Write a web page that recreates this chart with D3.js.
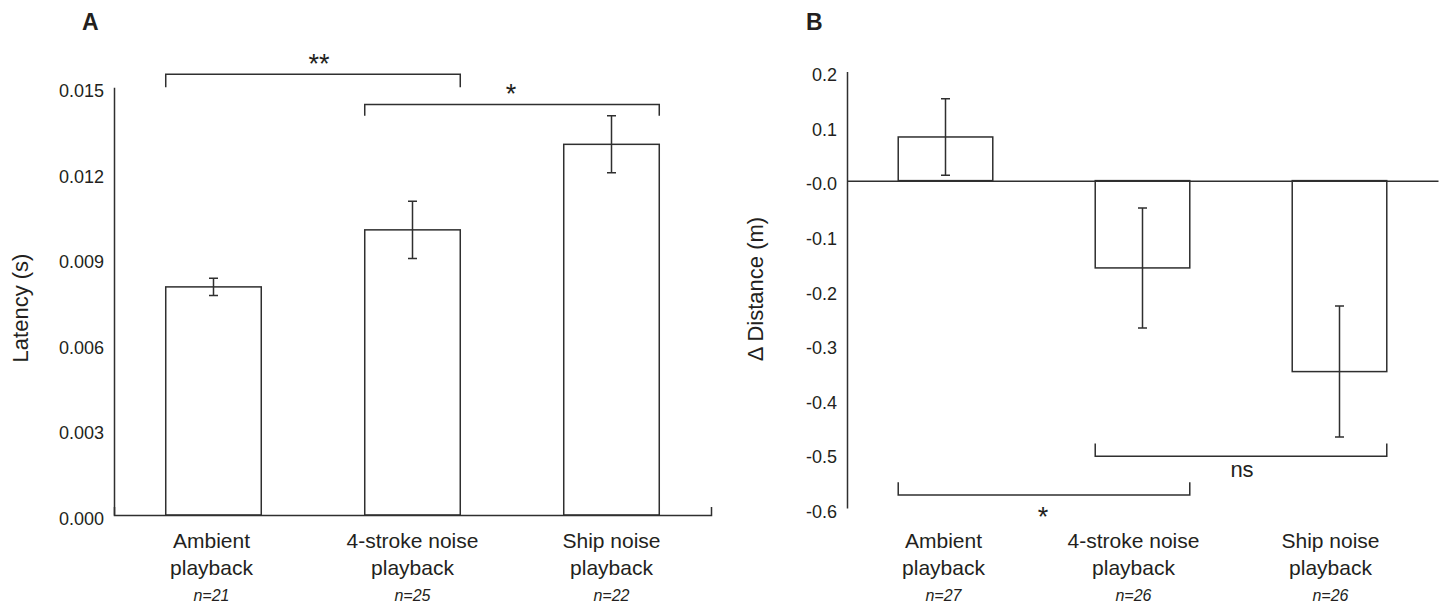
<!DOCTYPE html>
<html>
<head>
<meta charset="utf-8">
<script src="https://cdn.jsdelivr.net/npm/d3@7"></script>
<style>
  html, body { margin: 0; padding: 0; background: #fff; }
  svg { display: block; }
</style>
</head>
<body>
<svg id="fig" width="1444" height="605"></svg>
<script>
// ═══════════════════════════════════════════════════════════════════
// Données — latence (A) et Δ distance (B) selon le type de playback
// ═══════════════════════════════════════════════════════════════════

const CATS = ['Ambient playback', '4-stroke noise playback', 'Ship noise playback'];
const CAT_LINES = [['Ambient', 'playback'], ['4-stroke noise', 'playback'], ['Ship noise', 'playback']];

// Panneau A — latence (s)
const LAT_MEAN = [0.0080, 0.0100, 0.0130];
const LAT_ERR = [0.0003, 0.0010, 0.0010];
const LAT_N = [21, 25, 22];
const LAT_TICKS = [0, 0.003, 0.006, 0.009, 0.012, 0.015];
const LAT_TICK_LABELS = ['0.000', '0.003', '0.006', '0.009', '0.012', '0.015'];
const LAT_SIG = [
  { a: 0, b: 1, txt: '**' },
  { a: 1, b: 2, txt: '*' }
];

// Panneau B — Δ distance (m)
const DIST_MEAN = [0.08, -0.16, -0.35];
const DIST_ERR = [0.07, 0.11, 0.12];
const DIST_N = [27, 26, 26];
const DIST_TICKS = [0.2, 0.1, 0, -0.1, -0.2, -0.3, -0.4, -0.5, -0.6];
const DIST_TICK_LABELS = ['0.2', '0.1', '-0.0', '-0.1', '-0.2', '-0.3', '-0.4', '-0.5', '-0.6'];
const DIST_SIG = [
  { a: 1, b: 2, txt: 'ns' },
  { a: 0, b: 1, txt: '*' }
];

// ─── Styles ─────────────────────────────────────────────────────────
const FONT = '"Liberation Sans", Arial, Helvetica, sans-serif';
const INK = '#231f20';
const LINE = '#2f2f2f';
const STK = 1.5;

const svg = d3.select('#fig');

// Texte simple
function txt(sel, x, y, s, opts = {}) {
  return sel.append('text')
    .attr('x', x).attr('y', y)
    .attr('text-anchor', opts.anchor || 'middle')
    .attr('font-family', FONT)
    .attr('font-size', opts.size || 21)
    .attr('font-weight', opts.bold ? 700 : 400)
    .attr('font-style', opts.italic ? 'italic' : 'normal')
    .attr('fill', INK)
    .attr('transform', opts.rotate ? `rotate(${opts.rotate},${x},${y})` : null)
    .text(s);
}

// Axe vertical sans graduations, étiquettes à gauche
function yAxis(sel, y, x0, ticks, labels) {
  const g = sel.append('g')
    .attr('transform', `translate(${x0},0)`)
    .call(d3.axisLeft(y)
      .tickValues(ticks)
      .tickFormat((d, i) => labels[i])
      .tickSize(0)
      .tickSizeOuter(0)
      .tickPadding(10));
  g.select('.domain').attr('stroke', LINE).attr('stroke-width', STK);
  g.selectAll('.tick text')
    .attr('y', 3.5)
    .attr('font-family', FONT)
    .attr('font-size', 18)
    .attr('fill', INK);
  return g;
}

// Ligne de base horizontale (petit trait vertical en bout si outer < 0)
function xAxis(sel, x, y0, outer) {
  const g = sel.append('g')
    .attr('transform', `translate(0,${y0})`)
    .call(d3.axisBottom(x).tickSize(0).tickSizeOuter(outer).tickFormat(''));
  g.select('.domain').attr('stroke', LINE).attr('stroke-width', STK);
  g.selectAll('.tick').remove();
  return g;
}

// Étiquettes de catégories sur 2 lignes + effectif n
function catLabels(sel, x, ns, dx) {
  CATS.forEach((c, i) => {
    const cx = x(c) + x.bandwidth() / 2 + dx[i];
    txt(sel, cx, 548, CAT_LINES[i][0]);
    txt(sel, cx, 575, CAT_LINES[i][1]);
    txt(sel, cx, 601, 'n=' + ns[i], { size: 16, italic: true });
  });
}

// Barres vides (contour seul) depuis la ligne zéro
function bars(sel, x, y, means) {
  sel.append('g').selectAll('rect')
    .data(means)
    .join('rect')
    .attr('x', (d, i) => x(CATS[i]))
    .attr('width', x.bandwidth())
    .attr('y', d => Math.min(y(d), y(0)))
    .attr('height', d => Math.abs(y(d) - y(0)))
    .attr('fill', '#fff')
    .attr('stroke', LINE)
    .attr('stroke-width', STK);
}

// Barres d'erreur ± err, avec chapeaux
function errBars(sel, x, y, means, errs) {
  const cap = 4.5;
  sel.append('g').selectAll('path')
    .data(means)
    .join('path')
    .attr('d', (d, i) => {
      const cx = x(CATS[i]) + x.bandwidth() / 2;
      const y1 = y(d + errs[i]), y2 = y(d - errs[i]);
      return `M${cx - cap},${y1}H${cx + cap}M${cx},${y1}V${y2}M${cx - cap},${y2}H${cx + cap}`;
    })
    .attr('fill', 'none')
    .attr('stroke', LINE)
    .attr('stroke-width', STK);
}

// Crochet de significativité entre deux barres
function bracket(sel, x, y, sig, level, legTo, labelDx, labelDy, size) {
  const x1 = x(CATS[sig.a]);
  const x2 = x(CATS[sig.b]) + x.bandwidth();
  sel.append('path')
    .attr('d', `M${x1},${y(legTo)}V${y(level)}H${x2}V${y(legTo)}`)
    .attr('fill', 'none')
    .attr('stroke', LINE)
    .attr('stroke-width', STK);
  txt(sel, (x1 + x2) / 2 + labelDx, y(level) + labelDy, sig.txt, { size: size });
}

// ═══════════════════════════════════════════════════════════════════
// Panneau A
// ═══════════════════════════════════════════════════════════════════
const gA = svg.append('g');
const xA = d3.scaleBand().domain(CATS).range([114, 711]).paddingInner(0.52).paddingOuter(0.26);
const yA = d3.scaleLinear().domain([0, 0.015]).range([515, 87.3]);

txt(gA, 82, 30, 'A', { anchor: 'start', bold: true, size: 23 });
txt(gA, 28, 308, 'Latency (s)', { size: 22, rotate: -90 });

bars(gA, xA, yA, LAT_MEAN);
errBars(gA, xA, yA, LAT_MEAN, LAT_ERR);
yAxis(gA, yA, 114, LAT_TICKS, LAT_TICK_LABELS);
xAxis(gA, xA, yA(0), -8);
catLabels(gA, xA, LAT_N, [-2, 0, 0]);

bracket(gA, xA, yA, LAT_SIG[0], 0.01546, 0.0150, 6, -1.5, 27);
bracket(gA, xA, yA, LAT_SIG[1], 0.01440, 0.0140, -1, -1.5, 27);

// ═══════════════════════════════════════════════════════════════════
// Panneau B
// ═══════════════════════════════════════════════════════════════════
const gB = svg.append('g');
const xB = d3.scaleBand().domain(CATS).range([847, 1438]).paddingInner(0.52).paddingOuter(0.26);
const yB = d3.scaleLinear().domain([-0.6, 0.2]).range([508, 71.5]);

txt(gB, 806, 30, 'B', { anchor: 'start', bold: true, size: 23 });
txt(gB, 763, 289, '\u0394 Distance (m)', { size: 22, rotate: -90 });

bars(gB, xB, yB, DIST_MEAN);
errBars(gB, xB, yB, DIST_MEAN, DIST_ERR);
yAxis(gB, yB, 847, DIST_TICKS, DIST_TICK_LABELS);
xAxis(gB, xB, yB(0), 0);
catLabels(gB, xB, DIST_N, [-2, -9, -9]);

bracket(gB, xB, yB, DIST_SIG[0], -0.505, -0.482, 1, 20.5, 22);
bracket(gB, xB, yB, DIST_SIG[1], -0.576, -0.553, -1, 31, 27);
</script>
</body>
</html>
